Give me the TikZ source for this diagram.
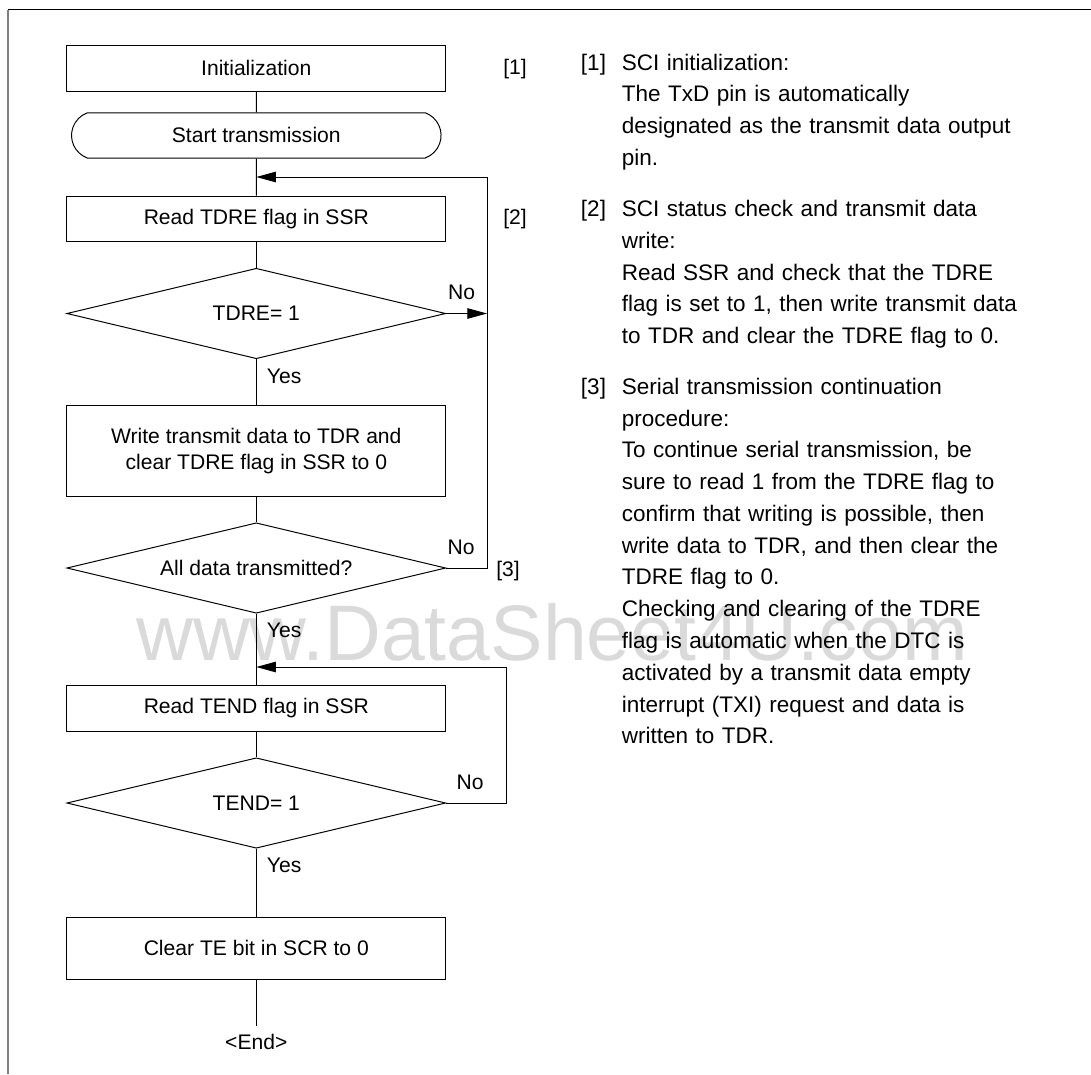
\documentclass[tikz,border=0pt]{standalone}
\usepackage{fontspec}
\setmainfont{Liberation Sans}
\usepackage{tikz}
\usetikzlibrary{arrows.meta,shapes.geometric,shapes.misc}
\definecolor{FrameGray}{RGB}{128,128,128}
\definecolor{MarkGray}{RGB}{218,218,218}
\tikzset{
    flowbox/.style={draw, line width=0.7pt, minimum width=9.47cm, align=center, inner sep=2pt, font=\fontsize{15}{18.3}\selectfont},
    startbox/.style={draw, line width=0.7pt, rounded rectangle, rounded rectangle arc length=140, minimum width=9.47cm, minimum height=1.13cm, font=\fontsize{15}{18.3}\selectfont},
    decision/.style={draw, diamond, aspect=4.2, line width=0.7pt, minimum width=9.47cm, minimum height=2.26cm, inner sep=1pt, font=\fontsize{15}{18.3}\selectfont},
    flowlabel/.style={inner sep=0pt, font=\fontsize{15}{18.3}\selectfont},
    notenum/.style={anchor=base west, inner sep=0pt, font=\fontsize{16}{22.6}\selectfont},
    notetext/.style={anchor=base west, inner sep=0pt, text width=11cm, align=left, font=\fontsize{16}{22.6}\selectfont},
    conn/.style={line width=0.7pt},
    arr/.style={line width=0.7pt, -{Triangle[length=14pt,width=7.5pt]}},
}

\begin{document}
\begin{tikzpicture}[x=0.025cm, y=-0.025cm]
\useasboundingbox (0,0) rectangle (1091,1074);

% watermark and frame
\node[text=MarkGray, inner sep=0pt, anchor=base, font=\fontsize{56}{56}\selectfont] (mark) at (552,660) {www.DataSheet4U.com};
\draw[FrameGray, line width=1.4pt] (8,1074) -- (8,9.5);
\draw[line width=1pt] (8,9.5) -- (1091,9.5);

% flow
\node[flowbox, minimum height=1.13cm] (init) at (256.3,68.4) {Initialization};
\node[startbox] (start) at (256.3,135.4) {Start transmission};
\node[flowbox, minimum height=1.14cm] (rdtdre) at (256.3,218.9) {Read TDRE flag in SSR};
\node[decision] (tdre) at (256.3,313.5) {TDRE= 1};
\node[flowbox, minimum height=2.26cm] (wrdata) at (256.3,451) {Write transmit data to TDR and\\clear TDRE flag in SSR to 0};
\node[decision] (alldone) at (256.3,568) {All data transmitted?};
\node[flowbox, minimum height=1.13cm] (rdtend) at (256.3,708.4) {Read TEND flag in SSR};
\node[decision] (tend) at (256.3,803) {TEND= 1};
\node[flowbox, minimum height=1.55cm] (clrte) at (256.3,948) {Clear TE bit in SCR to 0};
\node[flowlabel, inner sep=6pt] (fin) at (256.3,1042) {<End>};

\coordinate (j1) at (256.3,177);
\coordinate (j2) at (256.3,667);
\coordinate (loop1) at (487,313.5);

\draw[conn] (init) -- (start);
\draw[conn] (start) -- (rdtdre);
\draw[conn] (rdtdre) -- (tdre);
\draw[conn] (tdre) -- (wrdata);
\draw[conn] (wrdata) -- (alldone);
\draw[conn] (alldone) -- (rdtend);
\draw[conn] (rdtend) -- (tend);
\draw[conn] (tend) -- (clrte);
\draw[conn] (clrte) -- (fin);
\draw[arr] (tdre.east) -- (loop1);
\draw[arr] (alldone.east) -- ++(41,0) |- (j1);
\draw[arr] (tend.east) -- ++(60,0) |- (j2);

% branch labels
\node[flowlabel] (no1) at (461.7,292.7) {No};
\node[flowlabel] (no2) at (461,547) {No};
\node[flowlabel] (no3) at (470,782) {No};
\node[flowlabel, anchor=west] (yes1) at (266.7,376) {Yes};
\node[flowlabel, anchor=west] (yes2) at (266.7,630) {Yes};
\node[flowlabel, anchor=west] (yes3) at (266.7,865) {Yes};
\node[flowlabel] (tag1) at (515,69) {[1]};
\node[flowlabel] (tag2) at (515,219) {[2]};
\node[flowlabel] (tag3) at (508,571) {[3]};

% notes
\node[notenum] (num1) at (580.7,70) {[1]};
\node[notetext] (note1) at (621.5,70) {SCI initialization:\\The TxD pin is automatically\\designated as the transmit data output\\pin.};
\node[notenum] (num2) at (580.7,216.5) {[2]};
\node[notetext] (note2) at (621.5,216.5) {SCI status check and transmit data\\write:\\Read SSR and check that the TDRE\\flag is set to 1, then write transmit data\\to TDR and clear the TDRE flag to 0.};
\node[notenum] (num3) at (580.7,394.3) {[3]};
\node[notetext] (note3) at (621.5,394.3) {Serial transmission continuation\\procedure:\\To continue serial transmission, be\\sure to read 1 from the TDRE flag to\\confirm that writing is possible, then\\write data to TDR, and then clear the\\TDRE flag to 0.\\Checking and clearing of the TDRE\\flag is automatic when the DTC is\\activated by a transmit data empty\\interrupt (TXI) request and data is\\written to TDR.};
\end{tikzpicture}
\end{document}
